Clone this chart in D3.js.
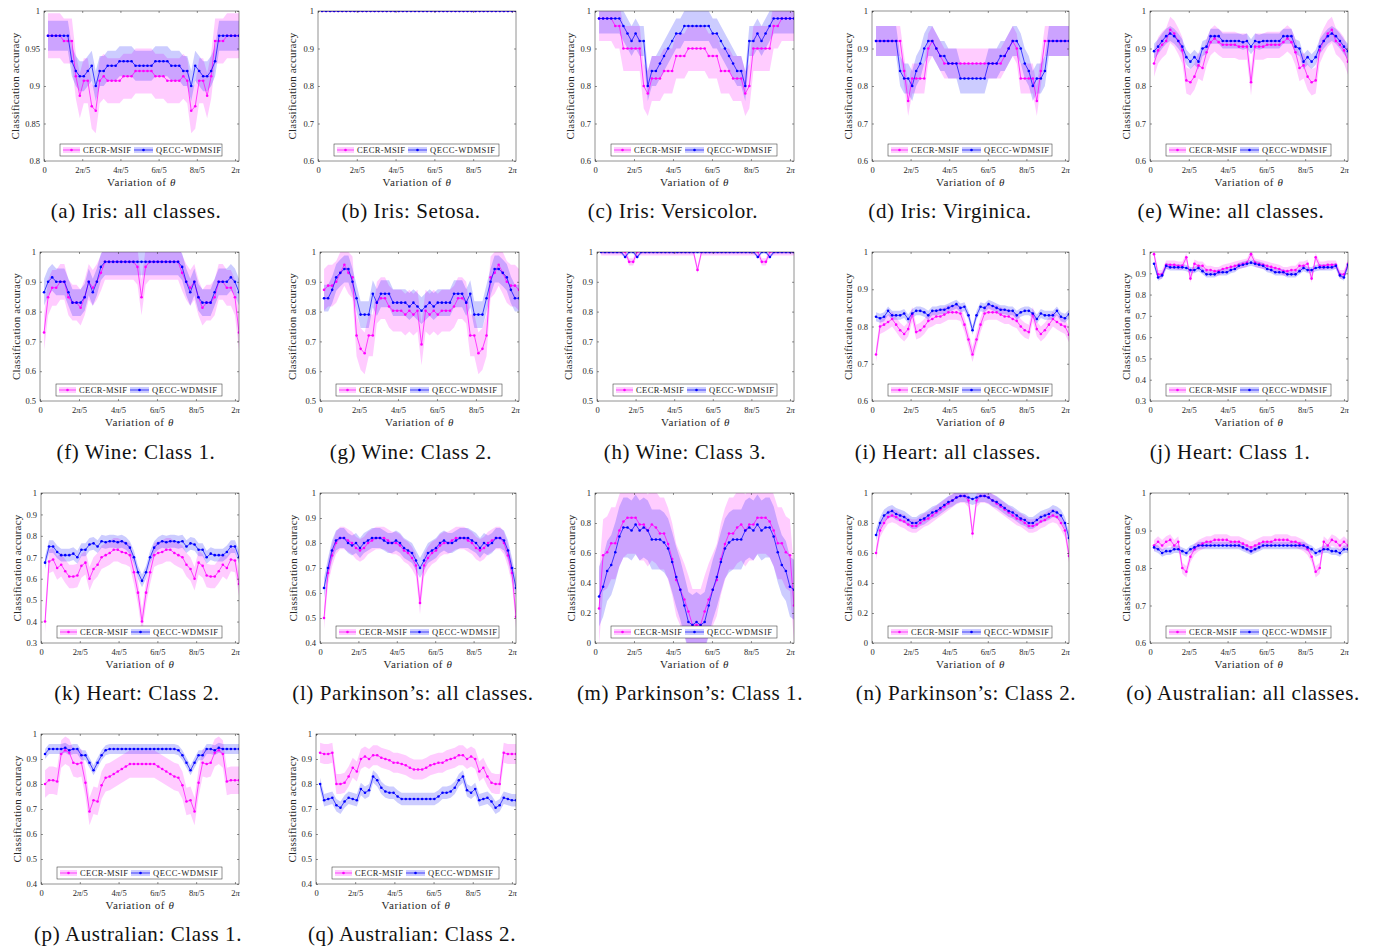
<!DOCTYPE html>
<html>
<head>
<meta charset="utf-8">
<script src="https://cdn.jsdelivr.net/npm/d3@7"></script>
<style>
  body { margin: 0; background: #fff; }
  svg { display: block; }
</style>
</head>
<body>
<svg id="fig" width="1376" height="946"></svg>
<script>
// 49 rotation angles, theta = k * pi / 24 (k = 1..49)
const thetaStep = Math.PI / 24;
const nTheta = 49;
const xTickVals = [0, 2 * Math.PI / 5, 4 * Math.PI / 5, 6 * Math.PI / 5, 8 * Math.PI / 5, 2 * Math.PI];
const xTickLabels = [['0'], ['2', 'π', '/5'], ['4', 'π', '/5'], ['6', 'π', '/5'], ['8', 'π', '/5'], ['2', 'π']];
const seriesNames = ['CECR-MSIF', 'QECC-WDMSIF'];

// (a) Iris: all classes
const irisAllCecr = [.967,.967,.967,.967,.96,.96,.96,.913,.887,.907,.907,.873,.867,.907,.913,.907,.907,.907,.907,.913,.913,.913,.92,.92,.92,.92,.92,.913,.913,.913,.907,.907,.907,.907,.913,.907,.867,.873,.907,.907,.887,.913,.96,.96,.96,.967,.967,.967,.967];
const irisAllQecc = [.967,.967,.967,.967,.967,.967,.933,.92,.913,.913,.92,.927,.90,.92,.92,.927,.927,.927,.933,.933,.933,.933,.927,.927,.927,.927,.927,.933,.933,.933,.933,.927,.927,.927,.92,.92,.90,.927,.92,.913,.913,.92,.933,.967,.967,.967,.967,.967,.967];
// (b) Iris: Setosa
const irisSetCecr = [1,1,1,1,1,1,1,1,1,1,1,1,1,1,1,1,1,1,1,1,1,1,1,1,1,1,1,1,1,1,1,1,1,1,1,1,1,1,1,1,1,1,1,1,1,1,1,1,1];
const irisSetQecc = [1,1,1,1,1,1,1,1,1,1,1,1,1,1,1,1,1,1,1,1,1,1,1,1,1,1,1,1,1,1,1,1,1,1,1,1,1,1,1,1,1,1,1,1,1,1,1,1,1];
// (c) Iris: Versicolor
const irisVerCecr = [.98,.98,.98,.98,.96,.96,.90,.90,.90,.90,.90,.80,.78,.82,.82,.82,.84,.84,.84,.88,.88,.88,.90,.90,.90,.90,.90,.88,.88,.88,.84,.84,.84,.82,.82,.82,.78,.80,.90,.90,.90,.90,.90,.96,.96,.98,.98,.98,.98];
const irisVerQecc = [.98,.98,.98,.98,.98,.98,.96,.94,.92,.94,.92,.92,.80,.84,.84,.86,.88,.90,.92,.94,.94,.96,.96,.96,.96,.96,.96,.96,.94,.94,.92,.90,.88,.86,.84,.84,.80,.92,.92,.94,.92,.94,.96,.98,.98,.98,.98,.98,.98];
// (d) Iris: Virginica
const irisVirCecr = [.92,.92,.92,.92,.92,.92,.92,.84,.76,.82,.82,.82,.82,.90,.92,.90,.88,.86,.86,.86,.86,.86,.86,.86,.86,.86,.86,.86,.86,.86,.86,.86,.88,.90,.92,.90,.82,.82,.82,.82,.76,.84,.92,.92,.92,.92,.92,.92,.92];
const irisVirQecc = [.92,.92,.92,.92,.92,.92,.84,.82,.82,.80,.84,.86,.90,.92,.92,.90,.88,.88,.86,.86,.86,.82,.82,.82,.82,.82,.82,.82,.86,.86,.86,.88,.88,.90,.92,.92,.90,.86,.84,.80,.82,.82,.84,.92,.92,.92,.92,.92,.92];
// (e) Wine: all classes
const wineAllCecr = [.86,.895,.91,.92,.95,.94,.92,.895,.815,.81,.825,.855,.848,.89,.917,.927,.917,.91,.91,.91,.91,.905,.905,.905,.81,.905,.905,.905,.91,.91,.91,.91,.917,.927,.917,.89,.848,.855,.825,.81,.815,.895,.92,.94,.95,.92,.91,.895,.865];
const wineAllQecc = [.893,.905,.92,.933,.94,.933,.92,.905,.877,.865,.877,.865,.90,.905,.933,.933,.933,.92,.92,.92,.92,.92,.917,.92,.905,.92,.917,.92,.92,.92,.92,.92,.933,.933,.933,.905,.90,.865,.877,.865,.877,.905,.92,.933,.94,.933,.92,.905,.893];
// (f) Wine: Class 1
const wine1Cecr = [.73,.848,.88,.88,.90,.90,.848,.83,.83,.813,.848,.90,.88,.90,.93,.967,.967,.967,.967,.967,.967,.967,.967,.95,.848,.95,.967,.967,.967,.967,.967,.967,.967,.967,.93,.90,.88,.90,.848,.813,.83,.83,.848,.90,.90,.88,.88,.848,.73];
const wine1Qecc = [.865,.90,.915,.90,.90,.90,.865,.83,.83,.83,.848,.90,.865,.90,.95,.967,.967,.967,.967,.967,.967,.967,.967,.967,.967,.967,.967,.967,.967,.967,.967,.967,.967,.967,.95,.90,.865,.90,.848,.83,.83,.83,.865,.90,.90,.90,.915,.90,.865];
// (g) Wine: Class 2
const wine2Cecr = [.873,.887,.887,.90,.93,.957,.93,.915,.72,.675,.66,.72,.72,.83,.845,.845,.817,.803,.803,.803,.79,.803,.79,.803,.69,.803,.79,.803,.79,.803,.803,.803,.817,.845,.845,.83,.72,.72,.66,.675,.72,.915,.93,.957,.93,.90,.887,.887,.873];
const wine2Qecc = [.845,.845,.873,.915,.93,.943,.943,.90,.845,.79,.79,.79,.86,.83,.86,.86,.86,.83,.83,.83,.83,.817,.83,.817,.803,.817,.83,.817,.83,.83,.83,.83,.86,.86,.86,.83,.86,.79,.79,.79,.845,.90,.943,.943,.93,.915,.873,.845,.845];
// (h) Wine: Class 3
const wine3Cecr = [1,1,1,1,1,1,1,.967,.967,1,1,1,1,1,1,1,1,1,1,1,1,1,1,1,.94,1,1,1,1,1,1,1,1,1,1,1,1,1,1,1,.967,.967,1,1,1,1,1,1,1];
const wine3Qecc = [1,1,1,1,1,1,.983,1,1,.983,1,1,1,1,1,1,1,1,1,1,1,1,1,1,1,1,1,1,1,1,1,1,1,1,1,1,1,1,1,.983,1,1,.983,1,1,1,1,1,1];
// (i) Heart: all classes
const heartAllCecr = [.725,.80,.805,.812,.82,.805,.79,.78,.793,.833,.785,.79,.80,.815,.82,.827,.827,.832,.838,.838,.838,.835,.805,.765,.725,.765,.805,.835,.838,.838,.838,.832,.827,.827,.82,.815,.80,.79,.785,.833,.793,.78,.79,.805,.82,.812,.805,.80,.778];
const heartAllQecc = [.826,.822,.826,.842,.83,.83,.83,.835,.82,.835,.842,.842,.838,.83,.842,.842,.845,.845,.85,.855,.86,.85,.853,.83,.79,.83,.853,.85,.86,.855,.85,.845,.845,.842,.842,.83,.838,.842,.842,.835,.82,.835,.83,.83,.83,.842,.826,.822,.833];
// (j) Heart: Class 1
const heart1Cecr = [.99,.895,.895,.94,.94,.94,.935,.935,.975,.875,.945,.935,.935,.915,.915,.91,.91,.92,.925,.93,.935,.94,.945,.95,.99,.95,.945,.94,.935,.93,.925,.92,.91,.91,.915,.915,.935,.935,.945,.875,.975,.935,.935,.94,.94,.94,.895,.895,.945];
const heart1Qecc = [.945,.88,.89,.935,.928,.928,.928,.928,.925,.915,.915,.925,.91,.895,.895,.895,.905,.905,.905,.915,.92,.935,.94,.945,.95,.945,.94,.935,.92,.915,.905,.905,.905,.895,.895,.895,.91,.925,.915,.915,.925,.928,.928,.928,.928,.935,.89,.88,.94];
// (k) Heart: Class 2
const heart2Cecr = [.40,.68,.69,.65,.665,.635,.61,.61,.615,.66,.675,.60,.645,.665,.70,.71,.72,.735,.735,.725,.72,.71,.63,.535,.40,.535,.63,.71,.72,.725,.735,.735,.72,.71,.70,.665,.645,.60,.675,.66,.615,.61,.61,.635,.665,.65,.69,.685,.575];
const heart2Qecc = [.675,.75,.75,.725,.71,.71,.71,.717,.70,.735,.735,.76,.765,.75,.775,.77,.775,.775,.77,.775,.765,.745,.70,.63,.59,.63,.70,.745,.765,.775,.77,.775,.775,.77,.775,.75,.765,.76,.735,.735,.70,.717,.71,.71,.71,.725,.75,.75,.70];
// (l) Parkinson's: all classes
const parkAllCecr = [.50,.68,.75,.80,.82,.82,.81,.80,.78,.77,.78,.80,.81,.82,.82,.82,.81,.80,.80,.79,.77,.76,.74,.71,.56,.71,.74,.76,.77,.79,.80,.80,.81,.82,.82,.82,.81,.80,.78,.77,.78,.80,.81,.82,.82,.80,.75,.68,.505];
const parkAllQecc = [.62,.70,.77,.81,.82,.82,.80,.79,.80,.78,.80,.81,.82,.82,.82,.81,.80,.80,.81,.80,.78,.77,.76,.73,.70,.73,.76,.77,.78,.80,.81,.80,.80,.81,.82,.82,.82,.81,.80,.78,.80,.79,.80,.82,.82,.81,.77,.70,.62];
// (m) Parkinson's: Class 1
const park1Cecr = [.23,.585,.605,.665,.665,.75,.81,.835,.835,.835,.79,.79,.75,.79,.77,.73,.73,.66,.56,.42,.355,.29,.21,.12,.12,.12,.21,.29,.355,.42,.56,.66,.73,.73,.77,.79,.75,.79,.79,.835,.835,.835,.81,.75,.665,.665,.605,.585,.25];
const park1Qecc = [.31,.375,.48,.52,.605,.71,.77,.77,.75,.79,.75,.77,.75,.69,.69,.69,.67,.63,.54,.44,.355,.25,.14,.12,.14,.12,.14,.25,.355,.44,.54,.63,.67,.69,.69,.69,.75,.77,.75,.79,.75,.77,.77,.71,.605,.52,.48,.375,.355];
// (n) Parkinson's: Class 2
const park2Cecr = [.60,.75,.80,.84,.85,.84,.82,.81,.79,.78,.78,.80,.82,.83,.85,.87,.89,.91,.93,.95,.97,.98,.98,.95,.73,.95,.98,.98,.97,.95,.93,.91,.89,.87,.85,.83,.82,.80,.78,.78,.79,.81,.82,.84,.85,.84,.80,.75,.58];
const park2Qecc = [.72,.80,.85,.87,.88,.86,.85,.84,.82,.80,.80,.82,.83,.85,.87,.88,.90,.92,.94,.95,.97,.98,.98,.97,.96,.97,.98,.98,.97,.95,.94,.92,.90,.88,.87,.85,.83,.82,.80,.80,.82,.84,.85,.86,.88,.87,.85,.80,.70];
// (o) Australian: all classes
const austAllCecr = [.86,.87,.86,.87,.875,.86,.87,.80,.79,.83,.85,.86,.865,.87,.87,.875,.875,.875,.875,.87,.87,.87,.865,.86,.855,.86,.865,.87,.87,.87,.875,.875,.875,.875,.87,.87,.865,.86,.85,.83,.79,.80,.87,.86,.875,.87,.86,.87,.86];
const austAllQecc = [.855,.85,.84,.845,.845,.85,.85,.845,.84,.85,.855,.86,.86,.86,.86,.86,.86,.86,.86,.86,.86,.86,.855,.85,.845,.85,.855,.86,.86,.86,.86,.86,.86,.86,.86,.86,.86,.86,.855,.85,.84,.845,.85,.85,.845,.845,.84,.85,.85];
// (p) Australian: Class 1
const aust1Cecr = [.80,.815,.815,.81,.92,.935,.925,.885,.88,.885,.805,.69,.735,.73,.795,.825,.83,.84,.85,.86,.87,.88,.88,.88,.88,.88,.88,.88,.87,.86,.85,.84,.83,.825,.795,.73,.735,.69,.805,.885,.88,.885,.925,.935,.92,.81,.815,.815,.815];
const aust1Qecc = [.92,.94,.94,.94,.94,.945,.935,.94,.94,.915,.915,.885,.855,.885,.915,.935,.94,.94,.94,.94,.94,.94,.94,.94,.94,.94,.94,.94,.94,.94,.94,.94,.94,.935,.915,.885,.855,.885,.915,.915,.94,.94,.935,.945,.94,.94,.94,.94,.94];
// (q) Australian: Class 2
const aust2Cecr = [.925,.92,.92,.925,.80,.80,.805,.83,.865,.85,.90,.91,.90,.915,.915,.905,.90,.895,.885,.885,.88,.875,.865,.858,.858,.858,.865,.875,.88,.885,.885,.895,.90,.905,.915,.915,.90,.91,.90,.85,.865,.83,.805,.80,.80,.925,.92,.92,.92];
const aust2Qecc = [.80,.735,.74,.745,.715,.705,.73,.745,.74,.735,.78,.765,.775,.83,.815,.785,.77,.765,.765,.75,.74,.74,.74,.74,.74,.74,.74,.74,.74,.75,.765,.765,.77,.785,.815,.83,.775,.765,.78,.735,.74,.745,.73,.705,.715,.745,.74,.735,.735];

// standard deviation (half band width) per series: [CECR, QECC]
const bandSd = {
  a: [.03, .02], b: [0, 0], c: [.06, .04], d: [.04, .04], e: [.035, .02],
  f: [.06, .045], g: [.07, .045], h: [.012, .006], i: [.02, .012], j: [.02, .015],
  k: [.055, .03], l: [.045, .04], m: [.24, .2], n: [.045, .04], o: [.015, .01],
  p: [.055, .02], q: [.04, .025]
};

// y axis ticks per panel
const ticks08 = [0.8, 0.85, 0.9, 0.95, 1];
const ticks06 = [0.6, 0.7, 0.8, 0.9, 1];
const ticks05 = [0.5, 0.6, 0.7, 0.8, 0.9, 1];
const ticks04 = [0.4, 0.5, 0.6, 0.7, 0.8, 0.9, 1];
const ticks03 = [0.3, 0.4, 0.5, 0.6, 0.7, 0.8, 0.9, 1];
const ticks00 = [0, 0.2, 0.4, 0.6, 0.8, 1];

const rows = [[11, 161], [252, 401], [493, 643], [734, 884]];
const capBase = [218, 459, 700, 941];

// layout of the sub-figures: plot box, y-label x, caption centre
const panels = [
  { key: 'a', cap: '(a) Iris: all classes.', cecr: irisAllCecr, qecc: irisAllQecc, yt: ticks08, row: 0, L: 44, R: 239, yl: 15, cx: 136 },
  { key: 'b', cap: '(b) Iris: Setosa.', cecr: irisSetCecr, qecc: irisSetQecc, yt: ticks06, row: 0, L: 318, R: 516, yl: 292, cx: 411 },
  { key: 'c', cap: '(c) Iris: Versicolor.', cecr: irisVerCecr, qecc: irisVerQecc, yt: ticks06, row: 0, L: 595, R: 794, yl: 570, cx: 673 },
  { key: 'd', cap: '(d) Iris: Virginica.', cecr: irisVirCecr, qecc: irisVirQecc, yt: ticks06, row: 0, L: 872, R: 1069, yl: 848, cx: 950 },
  { key: 'e', cap: '(e) Wine: all classes.', cecr: wineAllCecr, qecc: wineAllQecc, yt: ticks06, row: 0, L: 1150, R: 1348, yl: 1126, cx: 1231 },
  { key: 'f', cap: '(f) Wine: Class 1.', cecr: wine1Cecr, qecc: wine1Qecc, yt: ticks05, row: 1, L: 40, R: 239, yl: 16, cx: 136 },
  { key: 'g', cap: '(g) Wine: Class 2.', cecr: wine2Cecr, qecc: wine2Qecc, yt: ticks05, row: 1, L: 320, R: 519, yl: 292, cx: 411 },
  { key: 'h', cap: '(h) Wine: Class 3.', cecr: wine3Cecr, qecc: wine3Qecc, yt: ticks05, row: 1, L: 597, R: 794, yl: 568, cx: 685 },
  { key: 'i', cap: '(i) Heart: all classes.', cecr: heartAllCecr, qecc: heartAllQecc, yt: ticks06, row: 1, L: 872, R: 1069, yl: 848, cx: 948 },
  { key: 'j', cap: '(j) Heart: Class 1.', cecr: heart1Cecr, qecc: heart1Qecc, yt: ticks03, row: 1, L: 1150, R: 1348, yl: 1126, cx: 1230 },
  { key: 'k', cap: '(k) Heart: Class 2.', cecr: heart2Cecr, qecc: heart2Qecc, yt: ticks03, row: 2, L: 41, R: 239, yl: 17, cx: 137 },
  { key: 'l', cap: '(l) Parkinson’s: all classes.', cecr: parkAllCecr, qecc: parkAllQecc, yt: ticks04, row: 2, L: 320, R: 516, yl: 293, cx: 413 },
  { key: 'm', cap: '(m) Parkinson’s: Class 1.', cecr: park1Cecr, qecc: park1Qecc, yt: ticks00, row: 2, L: 595, R: 794, yl: 571, cx: 690 },
  { key: 'n', cap: '(n) Parkinson’s: Class 2.', cecr: park2Cecr, qecc: park2Qecc, yt: ticks00, row: 2, L: 872, R: 1069, yl: 848, cx: 966 },
  { key: 'o', cap: '(o) Australian: all classes.', cecr: austAllCecr, qecc: austAllQecc, yt: ticks06, row: 2, L: 1150, R: 1348, yl: 1126, cx: 1243 },
  { key: 'p', cap: '(p) Australian: Class 1.', cecr: aust1Cecr, qecc: aust1Qecc, yt: ticks04, row: 3, L: 41, R: 239, yl: 17, cx: 138 },
  { key: 'q', cap: '(q) Australian: Class 2.', cecr: aust2Cecr, qecc: aust2Qecc, yt: ticks04, row: 3, L: 316, R: 516, yl: 292, cx: 412 }
];

const serif = '"Liberation Serif", "Times New Roman", serif';
const pink = '#ff00ff';
const blue = '#0000ff';
const axisColor = '#262626';

const svg = d3.select('#fig');
const defs = svg.append('defs');

const sdAt = (sd, i) => (Array.isArray(sd) ? sd[i] : sd);

const drawPanel = function(p) {
  const [T, B] = rows[p.row];
  const L = p.L;
  const R = p.R;
  const g = svg.append('g').attr('class', 'panel-' + p.key);

  const x = d3.scaleLinear().domain([0, nTheta * thetaStep]).range([L, R]);
  const y = d3.scaleLinear().domain([p.yt[0], p.yt[p.yt.length - 1]]).range([B, T]);
  const xAt = (d, i) => x((i + 1) * thetaStep);

  defs.append('clipPath').attr('id', 'clip-' + p.key)
    .append('rect').attr('x', L).attr('y', T).attr('width', R - L).attr('height', B - T);

  const plot = g.append('g').attr('clip-path', `url(#clip-${p.key})`);
  const series = [
    { vals: p.cecr, sd: bandSd[p.key][0], color: pink },
    { vals: p.qecc, sd: bandSd[p.key][1], color: blue }
  ];

  // shaded +- std bands
  series.forEach(s => {
    const area = d3.area()
      .x(xAt)
      .y0((d, i) => y(d - sdAt(s.sd, i)))
      .y1((d, i) => y(d + sdAt(s.sd, i)));
    plot.append('path').attr('d', area(s.vals))
      .attr('fill', s.color).attr('fill-opacity', 0.2).attr('stroke', 'none');
  });

  // mean lines with markers
  series.forEach(s => {
    const line = d3.line().x(xAt).y(d => y(d));
    plot.append('path').attr('d', line(s.vals))
      .attr('fill', 'none').attr('stroke', s.color).attr('stroke-width', 0.7);
    plot.append('g').selectAll('circle').data(s.vals).join('circle')
      .attr('cx', xAt).attr('cy', d => y(d)).attr('r', 1.3).attr('fill', s.color);
  });

  // axes (MATLAB style: inward ticks, box on)
  const xAxis = g.append('g').attr('transform', `translate(0,${B})`)
    .call(d3.axisBottom(x).tickValues(xTickVals).tickSizeInner(-2).tickSizeOuter(0).tickPadding(6));
  xAxis.selectAll('.tick text').each(function(d, i) {
    const t = d3.select(this).text(null);
    xTickLabels[i].forEach(part => {
      t.append('tspan').text(part).attr('font-style', part === 'π' ? 'italic' : null);
    });
  });
  g.append('g').attr('transform', `translate(0,${T})`)
    .call(d3.axisTop(x).tickValues(xTickVals).tickSizeInner(-2).tickSizeOuter(0).tickFormat(''));

  g.append('g').attr('transform', `translate(${L},0)`)
    .call(d3.axisLeft(y).tickValues(p.yt).tickSizeInner(-2).tickSizeOuter(0).tickPadding(4)
      .tickFormat(v => String(+v.toFixed(2))));
  g.append('g').attr('transform', `translate(${R},0)`)
    .call(d3.axisRight(y).tickValues(p.yt).tickSizeInner(-2).tickSizeOuter(0).tickFormat(''));

  g.selectAll('.domain').remove();
  g.selectAll('.tick line').attr('stroke', axisColor).attr('stroke-width', 0.5);
  g.selectAll('.tick text').attr('fill', axisColor).attr('font-family', serif).attr('font-size', 8.5);

  g.append('rect').attr('x', L).attr('y', T).attr('width', R - L).attr('height', B - T)
    .attr('fill', 'none').attr('stroke', axisColor).attr('stroke-width', 0.5);

  // axis labels
  g.append('text')
    .attr('transform', `translate(${p.yl},${(T + B) / 2}) rotate(-90)`)
    .attr('text-anchor', 'middle').attr('dominant-baseline', 'central')
    .attr('font-family', serif).attr('font-size', 11).attr('letter-spacing', 0.2).attr('fill', axisColor)
    .text('Classification accuracy');
  const xl = g.append('text')
    .attr('x', (L + R) / 2).attr('y', B + 25)
    .attr('text-anchor', 'middle')
    .attr('font-family', serif).attr('font-size', 11).attr('letter-spacing', 0.6).attr('fill', axisColor);
  xl.append('tspan').text('Variation of ');
  xl.append('tspan').attr('font-style', 'italic').text('θ');

  // legend
  const lx = L + 16;
  const ly = B - 17;
  const lg = g.append('g').attr('transform', `translate(${lx},${ly})`);
  lg.append('rect').attr('width', R - L - 33).attr('height', 12)
    .attr('fill', '#fff').attr('stroke', axisColor).attr('stroke-width', 0.5);
  const items = [
    { name: seriesNames[0], color: pink, x0: 3, x1: 20, tx: 23, tw: 48 },
    { name: seriesNames[1], color: blue, x0: 74, x1: 93, tx: 96, tw: 65 }
  ];
  items.forEach(it => {
    lg.append('rect').attr('x', it.x0).attr('y', 3).attr('width', it.x1 - it.x0).attr('height', 6)
      .attr('fill', it.color).attr('fill-opacity', 0.2);
    lg.append('line').attr('x1', it.x0).attr('x2', it.x1).attr('y1', 6).attr('y2', 6)
      .attr('stroke', it.color).attr('stroke-width', 0.7);
    lg.append('circle').attr('cx', (it.x0 + it.x1) / 2).attr('cy', 6).attr('r', 1.3).attr('fill', it.color);
    lg.append('text').attr('x', it.tx).attr('y', 9)
      .attr('font-family', serif).attr('font-size', 8.5).attr('fill', axisColor)
      .attr('textLength', it.tw).attr('lengthAdjust', 'spacing')
      .text(it.name);
  });

  // sub-caption
  svg.append('text')
    .attr('x', p.cx).attr('y', capBase[p.row])
    .attr('text-anchor', 'middle')
    .attr('font-family', serif).attr('font-size', 21).attr('letter-spacing', 0.6).attr('fill', '#111')
    .text(p.cap);
};

panels.forEach(drawPanel);
</script>
</body>
</html>
